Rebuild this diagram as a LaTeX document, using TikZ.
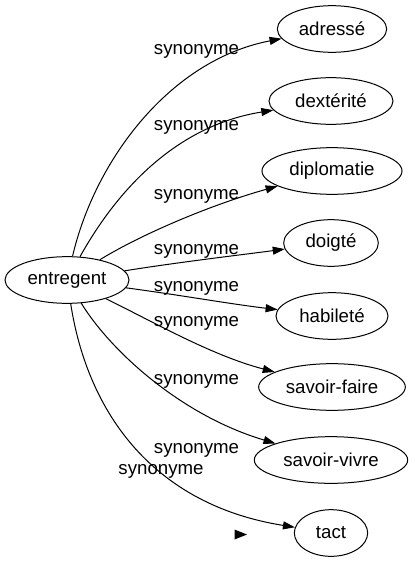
\documentclass[tikz,border=0pt]{standalone}
\usepackage{fontspec}
\setmainfont{Liberation Sans}
\usetikzlibrary{shapes.geometric,arrows.meta}
\begin{document}
\begin{tikzpicture}[x=0.75pt,y=-0.75pt,
  word/.style={ellipse,draw,line width=0.75pt,inner sep=0pt,minimum height=35pt,font=\fontsize{14}{16}\selectfont},
  rel/.style={font=\fontsize{14}{16}\selectfont,inner sep=0pt},
  link/.style={line width=0.75pt,-{Triangle[length=9pt,width=6pt]}}]
\useasboundingbox (0,0) rectangle (414,563);
\node[word,minimum width=93pt] (e) at (67,280) {entregent};
\node[word,minimum width=82pt] (a) at (332,29) {adressé};
\node[word,minimum width=93pt] (d) at (331,101) {dextérité};
\node[word,minimum width=105pt] (p) at (332,171) {diplomatie};
\node[word,minimum width=71pt] (g) at (331,243) {doigté};
\node[word,minimum width=84pt] (h) at (332,316) {habileté};
\node[word,minimum width=110pt] (f) at (332,387) {savoir-faire};
\node[word,minimum width=115pt] (v) at (331,460) {savoir-vivre};
\node[word,minimum width=55pt] (t) at (331,533) {tact};
\draw[link] (e) .. controls (95,160) and (170,60) .. (a);
\draw[link] (e) .. controls (120,185) and (180,125) .. (d);
\draw[link] (e) .. controls (140,235) and (210,205) .. (p);
\draw[link] (e) .. controls (180,262) and (240,255) .. (g);
\draw[link] (e) .. controls (180,295) and (230,304) .. (h);
\draw[link] (e) .. controls (150,320) and (210,355) .. (f);
\draw[link] (e) .. controls (110,350) and (180,415) .. (v);
\draw[link] (e) .. controls (88,415) and (155,505) .. (t);
\node[rel] (l1) at (196.5,51) {synonyme};
\node[rel] (l2) at (196.5,127) {synonyme};
\node[rel] (l3) at (196.5,196) {synonyme};
\node[rel] (l4) at (196.5,251) {synonyme};
\node[rel] (l5) at (196.5,288) {synonyme};
\node[rel] (l6) at (196.5,323) {synonyme};
\node[rel] (l7) at (196.5,381) {synonyme};
\node[rel] (l8) at (196.5,450) {synonyme};
\node[rel] (l9) at (161,471) {synonyme};
\fill (234.5,529.5) -- (247,534.5) -- (234.5,539.5) -- cycle;
\end{tikzpicture}
\end{document}
